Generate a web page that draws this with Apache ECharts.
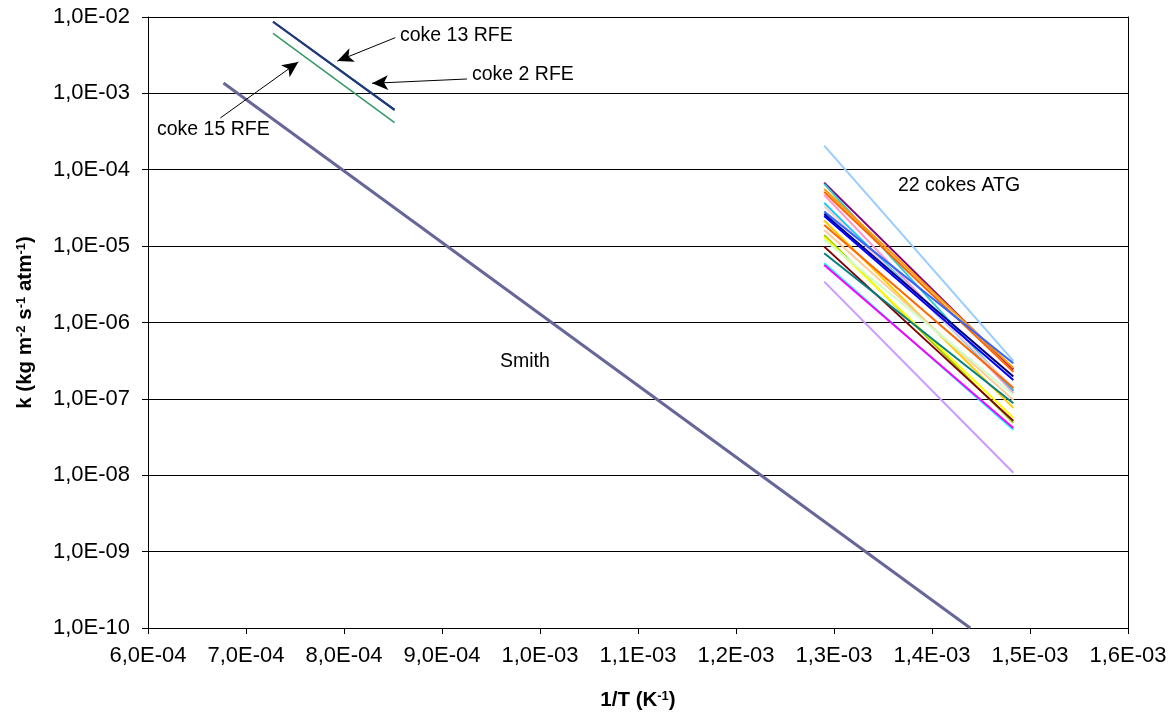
<!DOCTYPE html>
<html><head><meta charset="utf-8">
<script src="https://cdn.jsdelivr.net/npm/echarts@6/dist/echarts.min.js"></script>
<style>html,body{margin:0;padding:0;background:#fff}#c{width:1170px;height:718px}</style>
</head><body><div id="c"></div>
<script>
// ---- data ----
const smithX = [6.77e-4, 1.439e-3];
const smithK = [1.37e-3, 1.0e-10];
const rfeX = [7.276e-4, 8.516e-4];
const coke13K = [8.68e-3, 6.07e-4];
const coke2K = [8.68e-3, 6.07e-4];
const coke15K = [6.12e-3, 4.14e-4];
const atgX = [1.290e-3, 1.483e-3];
const atgStartK = [2.07e-4, 6.78e-5, 6.52e-5, 5.61e-5, 5.12e-5, 4.68e-5, 3.68e-5, 3.36e-5, 2.83e-5, 2.64e-5, 2.48e-5,
                   2.16e-5, 1.89e-5, 1.63e-5, 1.40e-5, 1.32e-5, 1.21e-5, 9.85e-6, 8.07e-6, 5.97e-6, 5.67e-6, 3.43e-6];
const atgEndK   = [3.14e-7, 2.43e-7, 1.27e-7, 2.54e-7, 2.26e-7, 1.20e-7, 1.31e-7, 1.39e-7, 2.93e-7, 1.96e-7, 1.77e-7,
                   7.62e-8, 1.39e-7, 9.70e-8, 4.85e-8, 5.64e-8, 1.13e-7, 5.15e-8, 8.78e-8, 3.93e-8, 4.17e-8, 1.08e-8];
// annotation arrows: [tailX, tailK, tipX, tipK]
const arrow13 = [8.523e-4, 5.36e-3, 7.932e-4, 2.65e-3];
const arrow2  = [9.255e-4, 1.543e-3, 8.286e-4, 1.355e-3];
const arrow15 = [6.738e-4, 4.76e-4, 7.534e-4, 2.58e-3];

// ---- styles ----
const atgColors = ['#99CCFF','#800080','#33CCCC','#FF9900','#FF6600','#FF99CC','#00CCFF','#FFCCCC','#3366FF','#000080','#0000FF',
                   '#FFCC00','#FF6600','#FFCC99','#99CC00','#FFFF00','#CCFFCC','#800000','#008080','#00FFFF','#FF00FF','#CC99FF'];
const FONT = 'Arial, "Liberation Sans", sans-serif';

function fmt(v){
  let s = Number(v).toExponential(1);
  return s.replace('.', ',').replace(/e([+-])(\d+)/, (m, sg, d) => 'E' + sg + d.padStart(2, '0'));
}
function pts(xs, ks){ return xs.map((x, i) => [x, ks[i]]); }

const series = [];
atgStartK.forEach((s, i) => {
  series.push({type:'line', data: pts(atgX, [s, atgEndK[i]]), showSymbol:false, symbol:'none',
    lineStyle:{color: atgColors[i], width:2}, silent:true});
});
series.push({type:'line', name:'Smith', data: pts(smithX, smithK), symbol:'none', lineStyle:{color:'#666699', width:3}, silent:true});
series.push({type:'line', name:'coke 15 RFE', data: pts(rfeX, coke15K), symbol:'none', lineStyle:{color:'#339966', width:1.5}, silent:true});
series.push({type:'line', name:'coke 2 RFE', data: pts(rfeX, coke2K), symbol:'none', lineStyle:{color:'#1F3A7A', width:2}, silent:true});
series.push({type:'line', name:'coke 13 RFE', data: pts(rfeX, coke13K), symbol:'none', lineStyle:{color:'#1F3A7A', width:2}, silent:true});
const arr = a => [{coord:[a[0], a[1]]}, {coord:[a[2], a[3]]}];
series.push({type:'line', data: [], silent:true,
  markLine:{silent:true, symbol:['none','arrow'], symbolSize:[11,16], animation:false,
    lineStyle:{color:'#000', width:1, type:'solid'}, label:{show:false}, emphasis:{disabled:true},
    data:[arr(arrow13), arr(arrow2), arr(arrow15)]}});

const chart = echarts.init(document.getElementById('c'));
const txt = (l, t, s) => ({type:'text', left:l, top:t, style:{text:s, font:'19.5px ' + FONT, fill:'#000'}});
const nameRich = {b:{fontSize:20.5, fontWeight:'bold', fontFamily:FONT, color:'#000'},
                  s:{fontSize:13, fontWeight:'bold', fontFamily:FONT, color:'#000', verticalAlign:'top'}};
chart.setOption({
  animation:false,
  backgroundColor:'#fff',
  grid:{left:148, right:42, top:17, bottom:90},
  xAxis:{type:'value', min:0.0006, max:0.0016, interval:0.0001,
    axisLine:{lineStyle:{color:'#000', width:1}}, axisTick:{inside:false, length:6, lineStyle:{color:'#000'}},
    splitLine:{show:false},
    axisLabel:{formatter: fmt, fontSize:22, color:'#000', fontFamily:FONT, margin:17},
    name:'{b|1/T (K}{s|-1}{b|)}', nameLocation:'middle', nameGap:62,
    nameTextStyle:{rich:nameRich}},
  yAxis:[{type:'log', logBase:10, min:1e-10, max:1e-2, splitNumber:8, interval:1,
    axisLine:{show:true, lineStyle:{color:'#000', width:1}}, axisTick:{show:true, length:6, lineStyle:{color:'#000'}},
    splitLine:{show:true, lineStyle:{color:'#000', width:1}}, minorTick:{show:false},
    axisLabel:{formatter: fmt, fontSize:22, color:'#000', fontFamily:FONT, margin:18},
    name:'{b|k (kg m}{s|-2}{b| s}{s|-1}{b| atm}{s|-1}{b|)}', nameLocation:'middle', nameGap:112, nameRotate:90,
    nameTextStyle:{rich:nameRich}},
   {type:'log', logBase:10, min:1e-10, max:1e-2, position:'right',
    axisLine:{show:true, lineStyle:{color:'#000', width:1}}, axisTick:{show:false}, axisLabel:{show:false}, splitLine:{show:false}}],
  graphic:[
    txt(400, 26, 'coke 13 RFE'),
    txt(472, 65, 'coke 2 RFE'),
    txt(157, 120, 'coke 15 RFE'),
    txt(898, 176, '22 cokes ATG'),
    txt(500, 352, 'Smith')
  ],
  series: series
});
</script></body></html>
